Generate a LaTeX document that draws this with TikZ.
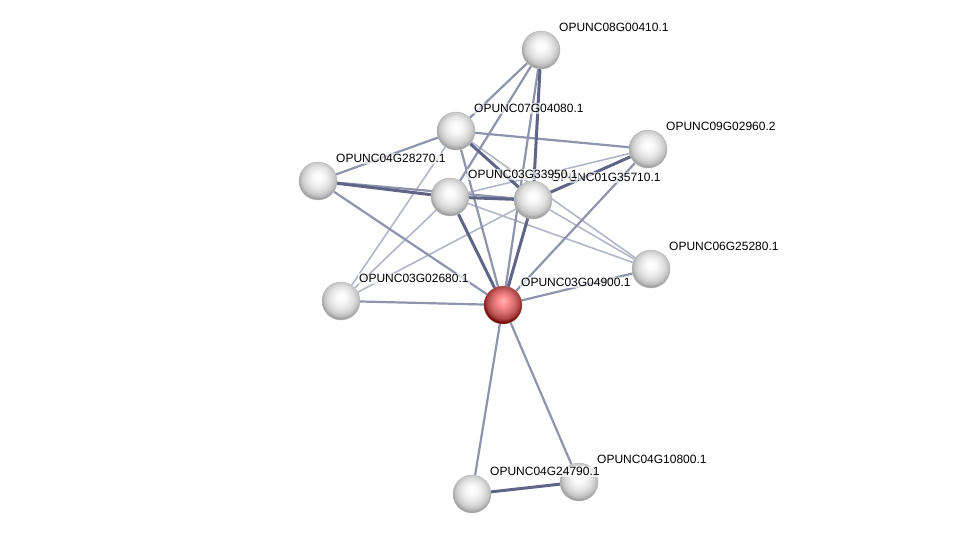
\documentclass[tikz,border=0pt]{standalone}
\usepackage{fontspec}
\setmainfont{Liberation Sans}
\usetikzlibrary{positioning,backgrounds}
\definecolor{linkweak}{HTML}{B2B6C8}
\definecolor{linkmid}{HTML}{8E94AC}
\definecolor{linkstrong}{HTML}{5E6586}
\pgfdeclareradialshading{greyball}{\pgfpoint{0bp}{6bp}}{color(0bp)=(white); color(7bp)=(gray!5); color(16bp)=(gray!24); color(22bp)=(gray!45); color(26bp)=(gray!75); color(50bp)=(gray!75)}
\pgfdeclareradialshading{redball}{\pgfpoint{0bp}{6bp}}{color(0bp)=(red!30!white); color(7bp)=(red!45!white); color(16bp)=(red!50!gray!80!white); color(22bp)=(red!55!black!75!white); color(26bp)=(red!45!black); color(50bp)=(red!45!black)}

\tikzset{
  protein/.style={circle,minimum size=38pt,inner sep=0pt,shading=greyball,draw=gray!55,line width=0.4pt},
  queryprot/.style={protein,shading=redball,draw=red!40!black!60},
  plabel/.style={font=\fontsize{12}{13}\selectfont,anchor=west,inner sep=1pt,fill=white,fill opacity=0.65,text opacity=1},
  weak/.style={linkweak,line width=1.6pt},
  mid/.style={linkmid,line width=2.2pt},
  strong/.style={linkstrong,line width=3pt},
}

\begin{document}
\begin{tikzpicture}[x=1pt,y=-1pt]
  \useasboundingbox (0,0) rectangle (976,539);
  % proteins
  \foreach \id/\x/\y in {n08/541/50, n07/456/131, n09/648/149, n28/318/181, n33/450/197,
                         n35/533/200, n06/651/269, n02/341/301, n24/472/494, n10/579/482} {
    \node[protein] (\id) at (\x,\y) {};
  }
  \node[queryprot] (n49) at (503,305) {};
  % links
  \begin{pgfonlayer}{background}
    \foreach \a/\b in {n02/n07, n02/n33, n02/n35, n33/n09, n33/n06, n35/n06, n07/n06}
      \draw[weak] (\a) -- (\b);
    \foreach \a/\b in {n28/n49, n02/n49, n07/n49, n49/n10, n49/n24, n49/n06, n49/n09,
                       n08/n49, n08/n07, n08/n33, n07/n28, n07/n09, n28/n35}
      \draw[mid] (\a) -- (\b);
    \foreach \a/\b in {n28/n33, n33/n35, n07/n35, n33/n49, n35/n49, n08/n35, n24/n10, n35/n09}
      \draw[strong] (\a) -- (\b);
  \end{pgfonlayer}
  % labels
  \foreach \id/\x/\y/\name in {n08/541/50/OPUNC08G00410.1, n07/456/131/OPUNC07G04080.1,
      n09/648/149/OPUNC09G02960.2, n28/318/181/OPUNC04G28270.1, n35/533/200/OPUNC01G35710.1,
      n33/450/197/OPUNC03G33950.1, n06/651/269/OPUNC06G25280.1, n02/341/301/OPUNC03G02680.1,
      n49/503/305/OPUNC03G04900.1, n10/579/482/OPUNC04G10800.1, n24/472/494/OPUNC04G24790.1} {
    \node[plabel] (l\id) at ({\x+17},{\y-22.5}) {\name};
  }
\end{tikzpicture}
\end{document}
